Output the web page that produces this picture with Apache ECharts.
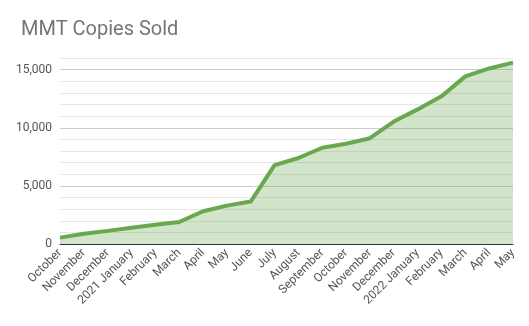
<!DOCTYPE html>
<html>
<head>
<meta charset="utf-8">
<script src="https://cdn.jsdelivr.net/npm/echarts@6/dist/echarts.min.js"></script>
<style>
html,body{margin:0;padding:0;background:#fff;}
#chart{width:529px;height:326px;}
</style>
</head>
<body>
<div id="chart"></div>
<script>
var categories = ['October','November','December','2021 January','February','March','April','May','June','July','August','September','October','November','December','2022 January','February','March','April','May'];
var copiesSold = [550, 880, 1130, 1400, 1650, 1890, 2820, 3300, 3650, 6780, 7400, 8280, 8620, 9100, 10530, 11580, 12700, 14420, 15100, 15600];
var yTickLabels = ['0', '5,000', '10,000', '15,000'];

var chart = echarts.init(document.getElementById('chart'), null, {renderer: 'canvas'});
chart.setOption({
  animation: false,
  backgroundColor: '#ffffff',
  title: {
    text: 'MMT Copies Sold',
    left: 16,
    top: 15,
    textStyle: {fontFamily: 'Roboto', fontSize: 20, fontWeight: 'normal', color: '#757575'}
  },
  grid: {left: 60, right: 16, top: 58, bottom: 82},
  xAxis: {
    type: 'category',
    data: categories,
    boundaryGap: false,
    axisLine: {show: true, lineStyle: {color: '#333333', width: 1}},
    axisTick: {show: false},
    axisLabel: {rotate: 45, interval: 0, color: '#555555', fontFamily: 'Roboto', fontSize: 12, margin: 7}
  },
  yAxis: {
    type: 'value',
    min: 0,
    max: 16000,
    interval: 1000,
    axisLine: {show: false},
    axisTick: {show: false},
    axisLabel: {
      color: '#555555', fontFamily: 'Roboto', fontSize: 12, margin: 8,
      formatter: function (v) {
        if (v % 5000 !== 0) return '';
        return yTickLabels[v / 5000] || '';
      }
    },
    splitLine: {lineStyle: {color: ['#cccccc', '#e6e6e6', '#e6e6e6', '#e6e6e6', '#e6e6e6'], width: 1}}
  },
  series: [{
    type: 'line',
    data: copiesSold,
    symbol: 'none',
    lineStyle: {color: '#6aa84f', width: 4},
    itemStyle: {color: '#6aa84f'},
    areaStyle: {color: 'rgba(106,168,79,0.3)', opacity: 1}
  }]
});
</script>
</body>
</html>
